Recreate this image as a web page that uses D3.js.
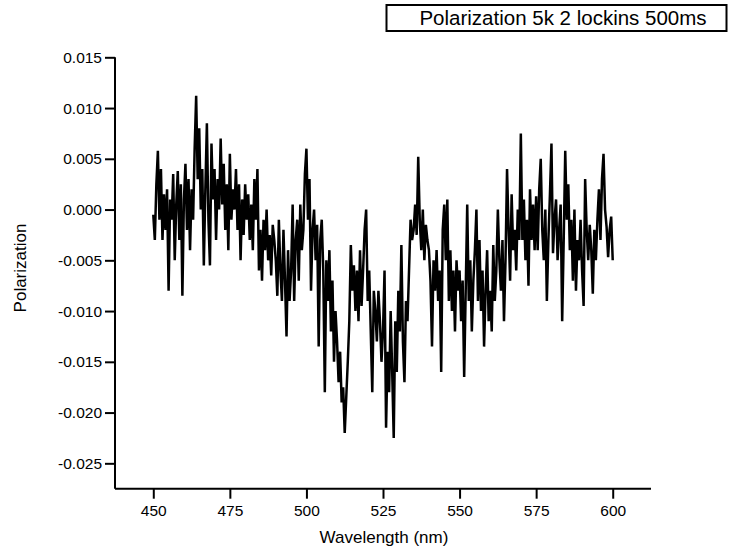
<!DOCTYPE html>
<html>
<head>
<meta charset="utf-8">
<script src="https://cdn.jsdelivr.net/npm/d3@7"></script>
<style>
  html, body { margin: 0; padding: 0; background: #fff; }
  svg { display: block; }
  text { font-family: "Liberation Sans", Arial, sans-serif; fill: #000; }
</style>
</head>
<body>
<svg id="chart" width="730" height="554"></svg>
<script>
// ---- Data ----
const legendLabel = "Polarization 5k 2 lockins 500ms";
const xTitle = "Wavelength (nm)";
const yTitle = "Polarization";
const xTicks = [450, 475, 500, 525, 550, 575, 600];
const yTicks = [-0.025, -0.020, -0.015, -0.010, -0.005, 0.000, 0.005, 0.010, 0.015];
const wlStart = 450, wlStep = 0.5;
// Polarization values in units of 1e-3, one per 0.5 nm from 450 to 600 nm
const polarizationMilli = [
  -0.5, -3, 2.5, 5.8, -1, 4, -3, 1.5, -2, 2,
  -8, 1, -1, 3.5, -5, 0.5, 3.8, -3, 2.5, -8.5,
  1, 4.5, -2, 3, -4, 2, -1, 6, 11.2, 3,
  8, 0, 4, -5.5, 2, 8.5, -1, -5.5, 6.5, 1,
  4, -3, 3, 0, 7, 0.5, 4.5, -2, 2.5, -4,
  5.5, -1, 2, 0, 4, -2, 2.5, -5, 1, -2.5,
  2.5, -1, 1.5, -3, 0.5, -4, 3, -1, 4, -6,
  -2, -7, -1, -4, 0, -5, -2.5, -6.5, -1.5, -3,
  -5, -8.5, -1, -6, -9, -2, -7, -12.5, -4, -9,
  -6, 0.5, -9, -3, -1, -7, 0.5, -4, -2, 3.5,
  6, -1, 3, -8, -2, 0, -5, -1.5, -13.5, -3,
  -1, -6, -18, -5, -9, -4, -12, -7, -15, -10,
  -13, -17, -14, -19, -17.5, -22, -18.5, -15, -11, -3.5,
  -8, -5.5, -10, -6, -11, -4, -9.5, -6, -2, 0,
  -9, -6, -12, -18, -8, -10, -13, -8, -11, -15,
  -12, -6, -21.5, -14, -18, -10, -16, -22.5, -11, -16,
  -8, -12, -3.5, -13, -17, -9, -11, -6, -1, -3,
  -2, 0.5, -2.5, 5.2, -1, -4, 0, -5, -1.5, -3,
  -4, -7, -13.5, -5, -8, -4, -9, -6, -16, -2,
  0.5, -5, 1, -9, -4, -10, -6, -12, -5, -8,
  -6, -11, -7, -16.5, -8, 0.5, -9, -5, -12, -7,
  -4, 0, -9, -3, -10, -6, -13.5, -8, -4, -11,
  -8, -12, -3.5, -9, -6, 0, -5, -8, -3, -11,
  -5, 4, -2, -7, 1.5, -4, -2, -6, 0, -3,
  7.5, -3, 1, -5, -1, -7.5, 2, -3, 0.5, -4,
  1.3, -4, 2, 5, -2, -5, 0, -9, -3, 1.5,
  6.5, -4.3, -1, 1, -5, -2, 0.5, -11, -3, 5.8,
  -1, 2.5, -4, -1, -7, 0, -8, -3, -5, -1,
  -6, -9.5, 3, -2, -5, -1.5, -4, -8.3, -2, -5,
  -1, 2, -3, 3, 5.5, 0, -1.7, -4.7, -2, -0.7,
  -5
];
const data = polarizationMilli.map((v, i) => ({ x: wlStart + i * wlStep, y: v / 1000 }));

// ---- Layout ----
const svg = d3.select("#chart");
const x = d3.scaleLinear().domain([437.5, 612.5]).range([115, 651]);
const y = d3.scaleLinear().domain([-0.0275, 0.015]).range([488.7, 57.3]);
const axisY0 = 115, axisX0 = 488.7;
const fmtY = d => d3.format(".3f")(d).replace("\u2212", "-");

// Data line
const line = d3.line().x(d => x(d.x)).y(d => y(d.y));
svg.append("path")
  .datum(data)
  .attr("d", line)
  .attr("fill", "none")
  .attr("stroke", "#000")
  .attr("stroke-width", 2.5)
  .attr("stroke-linejoin", "miter")
  .attr("stroke-miterlimit", 3);

// Minor ticks
const xMinor = d3.range(437.5, 613, 12.5).filter(v => !xTicks.includes(v));
const yMinor = d3.range(-0.0275, 0.0151, 0.0025).filter(v => !yTicks.some(t => Math.abs(t - v) < 1e-6));

const gx = svg.append("g").attr("transform", `translate(0,${axisX0})`);
gx.call(d3.axisBottom(x).tickValues(xMinor).tickSize(6).tickFormat(""));
gx.call(d3.axisBottom(x).tickValues(xTicks).tickSize(10).tickPadding(6).tickFormat(d3.format("d")));
gx.selectAll("path.domain").attr("stroke-width", 2).attr("d", `M${x(437.5)},0H${x(612.5)}`);
gx.selectAll("line").attr("stroke-width", 2);
gx.selectAll("text").style("font-size", "15.5px").style("font-family", "Liberation Sans, Arial, sans-serif");

const gy = svg.append("g").attr("transform", `translate(${axisY0},0)`);
gy.call(d3.axisLeft(y).tickValues(yMinor).tickSize(5).tickFormat(""));
gy.call(d3.axisLeft(y).tickValues(yTicks).tickSize(10).tickPadding(3).tickFormat(fmtY));
gy.selectAll("path.domain").attr("stroke-width", 2).attr("d", `M0,${y(0.015)}V${y(-0.0275)}`);
gy.selectAll("line").attr("stroke-width", 2);
gy.selectAll("text").style("font-size", "15.5px").style("font-family", "Liberation Sans, Arial, sans-serif");

// Axis titles
svg.append("text")
  .attr("x", 384).attr("y", 543)
  .attr("text-anchor", "middle")
  .style("font-size", "17px")
  .text(xTitle);
svg.append("text")
  .attr("transform", "translate(26,268) rotate(-90)")
  .attr("text-anchor", "middle")
  .style("font-size", "17px")
  .text(yTitle);

// Legend box
svg.append("rect")
  .attr("x", 386.5).attr("y", 5).attr("width", 340).attr("height", 26)
  .attr("fill", "#fff").attr("stroke", "#000").attr("stroke-width", 2);
svg.append("text")
  .attr("x", 563).attr("y", 25)
  .attr("text-anchor", "middle")
  .style("font-size", "20.5px")
  .text(legendLabel);
</script>
</body>
</html>
